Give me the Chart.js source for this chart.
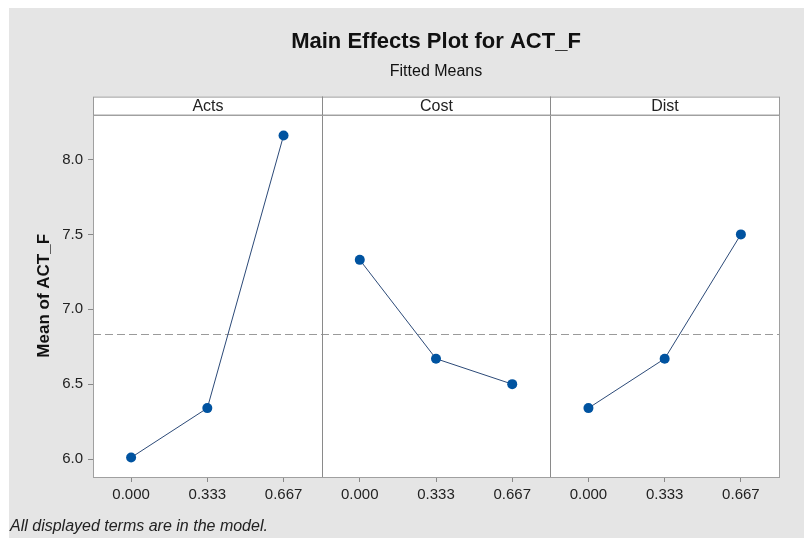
<!DOCTYPE html>
<html>
<head>
<meta charset="utf-8">
<script src="https://cdn.jsdelivr.net/npm/chart.js@4.4.1/dist/chart.umd.min.js"></script>
<style>
  html, body { margin: 0; padding: 0; background: #fff; }
  #wrap { position: relative; width: 804px; height: 542px; overflow: hidden; }
  #bg { position: absolute; left: 9px; top: 8px; right: 0; bottom: 4px; background: #e5e5e5; }
  #c { position: absolute; left: 0; top: 0; }
  #note { position: absolute; left: 10px; top: 517px; line-height: 19px;
          font: italic 16px 'Liberation Sans', Arial, sans-serif; color: #222; }
</style>
</head>
<body>
<div id="wrap">
  <div id="bg"></div>
  <canvas id="c" width="804" height="542"></canvas>
  <div id="note">All displayed terms are in the model.</div>
</div>
<script>
const FACTORS = ['Acts', 'Cost', 'Dist'];
const LEVELS = ['0.000', '0.333', '0.667'];
const ACTS = [6.01, 6.34, 8.16];
const COST = [7.33, 6.67, 6.50];
const DIST = [6.34, 6.67, 7.50];
const GRAND_MEAN = 6.835;
const Y_TICKS = [6.0, 6.5, 7.0, 7.5, 8.0];

const FONT = "'Liberation Sans', Arial, sans-serif";
const LINE = '#2c4a78';
const DOT = '#0053a0';

// one category axis holding the three panels side by side
const labels = FACTORS.flatMap(() => LEVELS);
const series = [ACTS, COST, DIST];

function panelData(vals, i) {
  const d = labels.map(() => null);
  vals.forEach((v, j) => { d[i * LEVELS.length + j] = v; });
  return d;
}

const panels = {
  id: 'panels',
  beforeDraw(chart) {
    const { ctx, chartArea: a } = chart;
    ctx.save();
    ctx.fillStyle = '#fff';
    ctx.fillRect(a.left, a.top, a.width, a.height);
    ctx.restore();
  },
  beforeDatasetsDraw(chart) {
    const { ctx, chartArea: a, scales: { y } } = chart;
    const my = Math.round(y.getPixelForValue(GRAND_MEAN)) + 0.5;
    ctx.save();
    ctx.strokeStyle = '#9a9a9a';
    ctx.lineWidth = 1;
    ctx.setLineDash([8, 4]);
    ctx.beginPath();
    ctx.moveTo(a.left, my);
    ctx.lineTo(a.right, my);
    ctx.stroke();
    ctx.restore();
  },
  afterDraw(chart) {
    const { ctx, chartArea: a, scales: { x } } = chart;
    const n = LEVELS.length;
    const hTop = a.top - 18;
    ctx.save();
    ctx.lineWidth = 1;
    // header strips
    FACTORS.forEach((f, i) => {
      const l = Math.round(x.getPixelForValue(i * n - 0.5)) + 0.5;
      const r = Math.round(x.getPixelForValue(i * n + n - 0.5)) + 0.5;
      ctx.fillStyle = '#fff';
      ctx.fillRect(l, hTop, r - l, 18);
      ctx.strokeStyle = '#9a9a9a';
      ctx.strokeRect(l, hTop + 0.5, r - l, 18);
      ctx.fillStyle = '#222';
      ctx.font = '16px ' + FONT;
      ctx.textAlign = 'center';
      ctx.textBaseline = 'middle';
      ctx.fillText(f, (l + r) / 2, hTop + 10);
    });
    // panel dividers
    ctx.strokeStyle = '#8a8a8a';
    for (let i = 1; i < FACTORS.length; i++) {
      const px = Math.round(x.getPixelForValue(i * n - 0.5)) + 0.5;
      ctx.beginPath();
      ctx.moveTo(px, hTop);
      ctx.lineTo(px, a.bottom);
      ctx.stroke();
    }
    // frame
    ctx.strokeStyle = '#a0a0a0';
    ctx.strokeRect(Math.round(a.left) + 0.5, Math.round(a.top) + 0.5,
                   Math.round(a.width), Math.round(a.height));
    ctx.restore();
  }
};

new Chart(document.getElementById('c'), {
  type: 'line',
  data: {
    labels,
    datasets: series.map((vals, i) => ({
      label: FACTORS[i],
      data: panelData(vals, i),
      borderColor: LINE,
      borderWidth: 1,
      pointRadius: 5,
      pointBackgroundColor: DOT,
      pointBorderColor: DOT,
      pointBorderWidth: 0,
      tension: 0,
      spanGaps: false
    }))
  },
  options: {
    responsive: false,
    animation: false,
    layout: { padding: { top: 10, left: 0, right: 25, bottom: 35 } },
    plugins: {
      legend: { display: false },
      tooltip: { enabled: false },
      title: {
        display: true, text: 'Main Effects Plot for ACT_F', fullSize: false,
        color: '#111', font: { family: FONT, size: 22, weight: 'bold' },
        padding: { top: 19, bottom: 0 }
      },
      subtitle: {
        display: true, text: 'Fitted Means', fullSize: false,
        color: '#111', font: { family: FONT, size: 16 },
        padding: { top: 7, bottom: 33 }
      }
    },
    scales: {
      x: {
        type: 'category', offset: true,
        grid: { drawOnChartArea: false, tickLength: 5, color: '#888' },
        border: { display: false },
        ticks: { autoSkip: false, maxRotation: 0, padding: 4, color: '#222', font: { family: FONT, size: 15 } },
        afterFit: s => { s.height = 30; }
      },
      y: {
        type: 'linear', min: 5.88, max: 8.30,
        afterBuildTicks: s => { s.ticks = Y_TICKS.map(v => ({ value: v })); },
        grid: { drawOnChartArea: false, tickLength: 5, color: '#888' },
        border: { display: false },
        ticks: { padding: 5, color: '#222', font: { family: FONT, size: 15 }, callback: v => v.toFixed(1) },
        title: {
          display: true, text: 'Mean of ACT_F', color: '#111',
          font: { family: FONT, size: 17, weight: 'bold' },
          padding: { top: 34, bottom: 0 }
        },
        afterFit: s => { s.width = 93; }
      }
    }
  },
  plugins: [panels]
});
</script>
</body>
</html>
